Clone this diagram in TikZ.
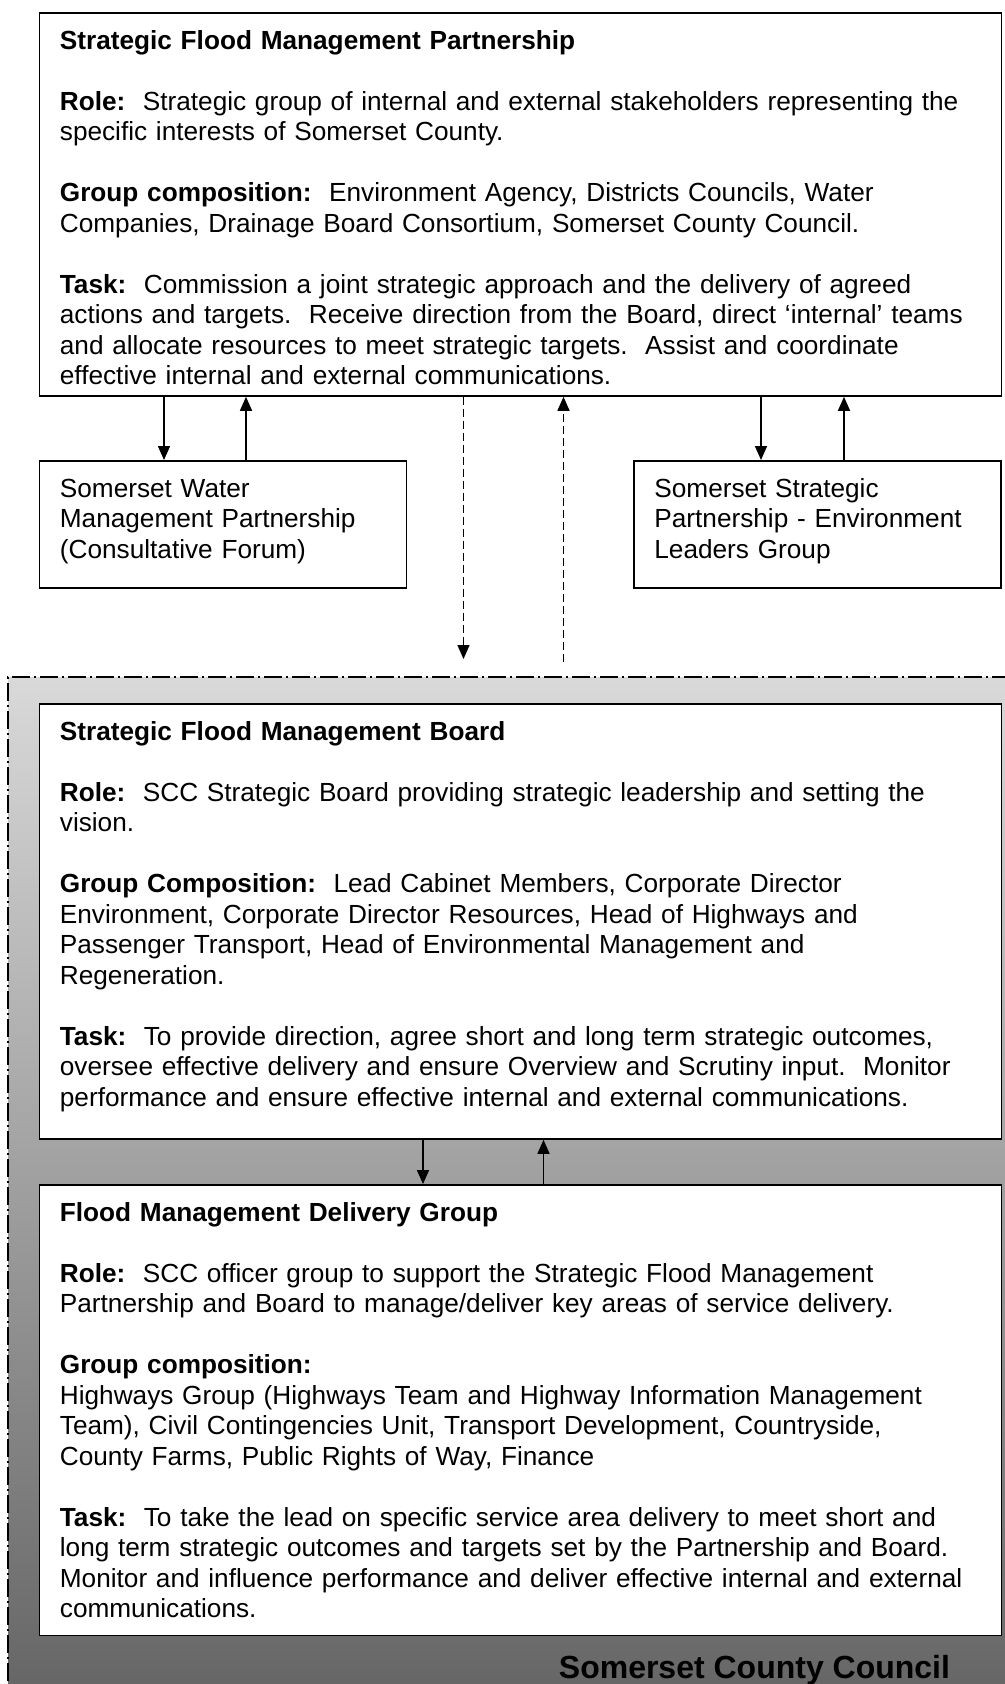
\documentclass[tikz,border=0pt]{standalone}
\usepackage{fontspec}
\setmainfont{Liberation Sans}
\usetikzlibrary{arrows.meta}
\definecolor{sccgraytop}{RGB}{217,217,217}
\definecolor{sccgraybot}{RGB}{102,102,102}
\newcommand{\firstline}{\rule{0pt}{32pt}}
\newcommand{\lastline}[1][6.5pt]{\rule[-#1]{0pt}{#1}}
\frenchspacing

\begin{document}
\begin{tikzpicture}[x=1pt,y=-1pt,line width=1.8pt]
    \tikzset{
        box/.style={draw, fill=white, anchor=north west, align=left,
            inner xsep=20.5pt, inner ysep=4.5pt,
            font=\fontsize{26.2}{30.5}\selectfont},
        bigbox/.style={box, text width=921pt},
        smallbox/.style={box, text width=326pt},
        arr/.style={-{Triangle[width=12pt,length=14pt]}, line width=1.5pt},
        dasharr/.style={arr, dash pattern=on 8pt off 4pt}
    }
    \useasboundingbox (0,0) rectangle (1004,1684);

    % county council area
    \shade[top color=sccgraytop, bottom color=sccgraybot] (8,677) rectangle (1010,1690);
    \draw[line width=1.5pt, dash pattern=on 18pt off 4pt on 2pt off 4pt] (1010,677) -- (8,677) -- (8,1690);

    \node[bigbox] (partnership) at (38.5,12) {\firstline\textbf{Strategic Flood Management Partnership}\\[30.5pt]
        \textbf{Role:}~ Strategic group of internal and external stakeholders representing the\\
        specific interests of Somerset County.\\[30.5pt]
        \textbf{Group composition:}~ Environment Agency, Districts Councils, Water\\
        Companies, Drainage Board Consortium, Somerset County Council.\\[30.5pt]
        \textbf{Task:}~ Commission a joint strategic approach and the delivery of agreed\\
        actions and targets.~ Receive direction from the Board, direct ‘internal’ teams\\
        and allocate resources to meet strategic targets.~ Assist and coordinate\\
        effective internal and external communications.\lastline};

    \node[smallbox] (water) at (38.5,460) {\firstline Somerset Water\\
        Management Partnership\\
        (Consultative Forum)\lastline[25pt]};
    \node[smallbox] (leaders) at (633,460) {\firstline Somerset Strategic\\
        Partnership - Environment\\
        Leaders Group\lastline[25pt]};

    \node[bigbox] (board) at (38.5,703) {\firstline\textbf{Strategic Flood Management Board}\\[30.5pt]
        \textbf{Role:}~ SCC Strategic Board providing strategic leadership and setting the\\
        vision.\\[30.5pt]
        \textbf{Group Composition:}~ Lead Cabinet Members, Corporate Director\\
        Environment, Corporate Director Resources, Head of Highways and\\
        Passenger Transport, Head of Environmental Management and\\
        Regeneration.\\[30.5pt]
        \textbf{Task:}~ To provide direction, agree short and long term strategic outcomes,\\
        oversee effective delivery and ensure Overview and Scrutiny input.~ Monitor\\
        performance and ensure effective internal and external communications.\lastline[28pt]};

    \node[bigbox] (delivery) at (38.5,1184) {\firstline\textbf{Flood Management Delivery Group}\\[30.5pt]
        \textbf{Role:}~ SCC officer group to support the Strategic Flood Management\\
        Partnership and Board to manage/deliver key areas of service delivery.\\[30.5pt]
        \textbf{Group composition:}\\
        Highways Group (Highways Team and Highway Information Management\\
        Team), Civil Contingencies Unit, Transport Development, Countryside,\\
        County Farms, Public Rights of Way, Finance\\[30.5pt]
        \textbf{Task:}~ To take the lead on specific service area delivery to meet short and\\
        long term strategic outcomes and targets set by the Partnership and Board.\\
        Monitor and influence performance and deliver effective internal and external\\
        communications.\lastline[13pt]};

    \node[anchor=base west, inner sep=0pt, font=\fontsize{32}{36}\selectfont\bfseries] (scc) at (558,1678) {Somerset County Council};

    \coordinate (wdown) at (164,0);
    \coordinate (wup) at (246,0);
    \coordinate (ldown) at (761,0);
    \coordinate (lup) at (844,0);
    \coordinate (bdown) at (423,0);
    \coordinate (bup) at (543.5,0);
    \coordinate (pdown) at (463.5,659);
    \coordinate (pup) at (563.5,662);

    \draw[arr] (partnership.south -| wdown) -- (water.north -| wdown);
    \draw[arr] (water.north -| wup) -- (partnership.south -| wup);
    \draw[arr] (partnership.south -| ldown) -- (leaders.north -| ldown);
    \draw[arr] (leaders.north -| lup) -- (partnership.south -| lup);
    \draw[dasharr] (partnership.south -| pdown) -- (pdown);
    \draw[dasharr] (pup) -- (partnership.south -| pup);
    \draw[arr] (board.south -| bdown) -- (delivery.north -| bdown);
    \draw[arr] (delivery.north -| bup) -- (board.south -| bup);
\end{tikzpicture}
\end{document}
